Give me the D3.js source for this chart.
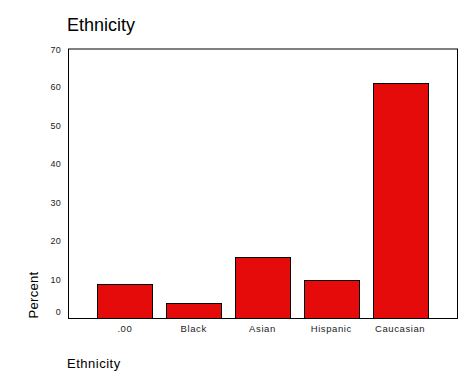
<!DOCTYPE html>
<html><head><meta charset="utf-8">
<script src="https://cdn.jsdelivr.net/npm/d3@7"></script>
<style>body{margin:0;background:#fff}svg{display:block}text{font-family:"Liberation Sans",Arial,sans-serif}</style>
</head><body>
<script>
const categories = [".00", "Black", "Asian", "Hispanic", "Caucasian"];
const percents = [8.8, 3.9, 15.8, 9.8, 61.1];
const yTicks = [0, 10, 20, 30, 40, 50, 60, 70];

(function () {
const W = 476, H = 381;
const pLeft = 68, pRight = 457, pTop = 48.5, pBottom = 318;
const svg = d3.select("body").append("svg").attr("width", W).attr("height", H);

const x = d3.scaleBand().domain(categories).range([pLeft, pRight]).paddingInner(0.2).paddingOuter(0.427);
const y = d3.scaleLinear().domain([0, 70]).range([pBottom, pTop]);

svg.append("g").selectAll("rect").data(categories).join("rect")
  .attr("x", d => Math.round(x(d)) + 0.5)
  .attr("y", (d, i) => Math.round(y(percents[i])) + 0.5)
  .attr("width", Math.round(x.bandwidth()))
  .attr("height", (d, i) => Math.round(pBottom - y(percents[i])))
  .attr("fill", "#e60b0b").attr("stroke", "#000").attr("stroke-width", 1);

svg.append("rect").attr("x", pLeft + 0.5).attr("y", pTop + 0.5)
  .attr("width", pRight - pLeft).attr("height", pBottom - pTop)
  .attr("fill", "none").attr("stroke", "#000").attr("stroke-width", 1);

svg.append("g").selectAll("text").data(yTicks).join("text")
  .attr("x", 61).attr("y", d => Math.min(Math.max(y(d), 50), 312))
  .attr("dy", "0.35em").attr("text-anchor", "end")
  .attr("font-size", 9).attr("letter-spacing", 0.3).attr("fill", "#222").text(d => d);

svg.append("g").selectAll("text").data(categories).join("text")
  .attr("x", d => x(d) + x.bandwidth() / 2).attr("y", 329).attr("dy", "0.35em")
  .attr("text-anchor", "middle").attr("font-size", 9.5).attr("letter-spacing", 0.6)
  .attr("fill", "#222").text(d => d);

svg.append("text").attr("x", 67).attr("y", 31).attr("font-size", 18).attr("fill", "#000").text("Ethnicity");
svg.append("text").attr("x", 67).attr("y", 368).attr("font-size", 13).attr("letter-spacing", 0.5).attr("fill", "#000").text("Ethnicity");
svg.append("text").attr("transform", "translate(38,295) rotate(-90)").attr("text-anchor", "middle")
  .attr("font-size", 13).attr("letter-spacing", 0.3).attr("fill", "#000").text("Percent");
})();
</script>
</body></html>
